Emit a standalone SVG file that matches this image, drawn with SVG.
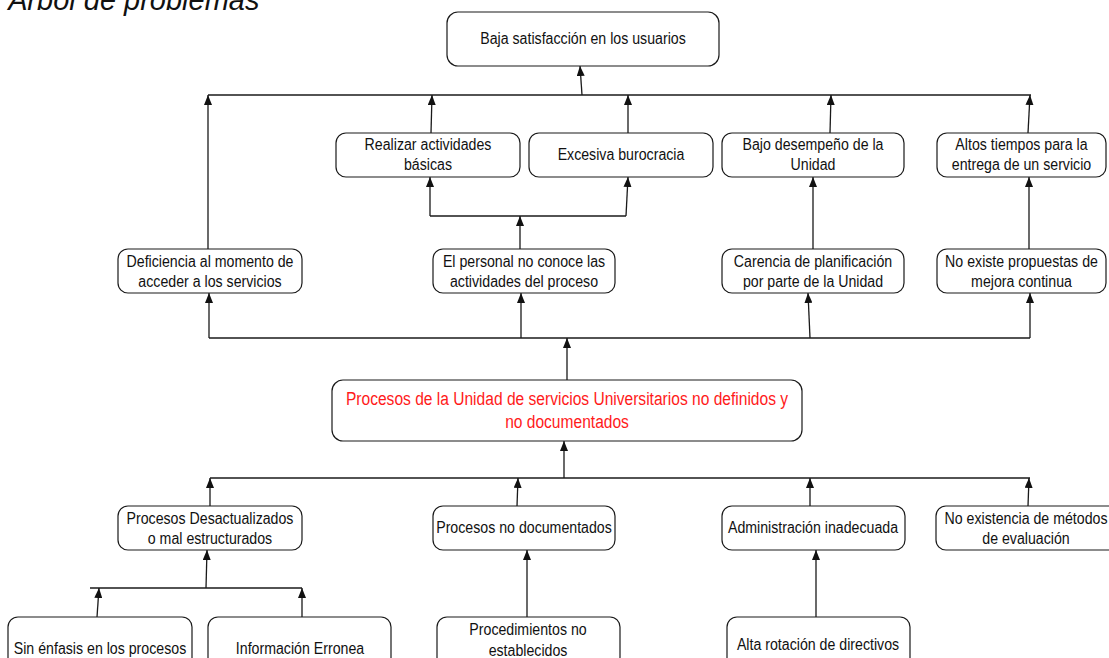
<svg xmlns="http://www.w3.org/2000/svg" width="1109" height="658" viewBox="0 0 1109 658">
  <style>
    .box { fill: #ffffff; stroke: #1a1a1a; stroke-width: 1.2; }
    .lbl { font-family: "Liberation Sans", Arial, sans-serif; font-size: 17.3px; fill: #111111; text-anchor: middle; }
    .core { font-size: 19px; fill: #ff1a1a; }
    .title { font-family: "Liberation Sans", Arial, sans-serif; font-style: italic; font-size: 29px; fill: #111111; }
    .wire { fill: none; stroke: #1a1a1a; stroke-width: 1.3; }
    .arr { fill: none; stroke: #1a1a1a; stroke-width: 1.3; marker-end: url(#tip); }
  </style>
  <defs>
    <marker id="tip" markerUnits="userSpaceOnUse" markerWidth="11" markerHeight="8" refX="10" refY="4" orient="auto">
      <path d="M0,0 L10,4 L0,8 z" fill="#111111"/>
    </marker>
  </defs>

  <rect width="1109" height="658" fill="#ffffff"/>

  <text class="title" x="8" y="10">Árbol de problemas</text>

  <!-- connectors -->
  <g id="connectors">
    <!-- effects bus -->
    <line class="wire" x1="208" y1="95" x2="1031" y2="95"/>
    <line class="arr" x1="582" y1="95" x2="580" y2="66"/>
    <line class="arr" x1="208" y1="249" x2="208" y2="95"/>
    <line class="arr" x1="431" y1="133" x2="432" y2="95"/>
    <line class="arr" x1="628" y1="133" x2="628" y2="95"/>
    <line class="arr" x1="830" y1="133" x2="831" y2="95"/>
    <line class="arr" x1="1028" y1="133" x2="1030" y2="95"/>

    <!-- El personal -> Realizar / Excesiva -->
    <line class="wire" x1="430" y1="216" x2="626" y2="216"/>
    <line class="arr" x1="430" y1="216" x2="430" y2="177"/>
    <line class="arr" x1="626" y1="216" x2="628" y2="177"/>
    <line class="arr" x1="520" y1="249" x2="520" y2="216"/>

    <line class="arr" x1="813" y1="249" x2="813" y2="177"/>
    <line class="arr" x1="1029" y1="249" x2="1029" y2="177"/>

    <!-- core problem -> direct effects -->
    <line class="wire" x1="209" y1="338" x2="1030" y2="338"/>
    <line class="arr" x1="567" y1="380" x2="567" y2="338"/>
    <line class="arr" x1="209" y1="338" x2="209" y2="293"/>
    <line class="arr" x1="521" y1="338" x2="521" y2="293"/>
    <line class="arr" x1="810" y1="338" x2="808" y2="293"/>
    <line class="arr" x1="1030" y1="338" x2="1030" y2="293"/>

    <!-- causes -> core problem -->
    <line class="wire" x1="210" y1="478" x2="1030" y2="478"/>
    <line class="arr" x1="564" y1="478" x2="564" y2="441"/>
    <line class="arr" x1="210" y1="506" x2="210" y2="478"/>
    <line class="arr" x1="517" y1="506" x2="518" y2="478"/>
    <line class="arr" x1="810" y1="506" x2="810" y2="478"/>
    <line class="arr" x1="1028" y1="506" x2="1029" y2="478"/>

    <!-- root causes -->
    <line class="wire" x1="90" y1="588" x2="302" y2="588"/>
    <line class="arr" x1="206" y1="588" x2="207" y2="550"/>
    <line class="arr" x1="97" y1="617" x2="99" y2="588"/>
    <line class="arr" x1="302" y1="617" x2="302" y2="588"/>
    <line class="arr" x1="527" y1="617" x2="527" y2="550"/>
    <line class="arr" x1="816" y1="617" x2="816" y2="550"/>
  </g>

  <!-- labels use a condensed face: each label group is centred on its box and squeezed horizontally -->

  <!-- top effect -->
  <g id="baja-satisfaccion">
    <rect class="box" x="447" y="12" width="272" height="54" rx="11"/>
    <g transform="translate(583 0) scale(0.82 1)">
      <text class="lbl" x="0" y="44">Baja satisfacción en los usuarios</text>
    </g>
  </g>

  <!-- effects, second level -->
  <g id="realizar-actividades">
    <rect class="box" x="336" y="133" width="184" height="44" rx="10"/>
    <g transform="translate(428 0) scale(0.82 1)">
      <text class="lbl" x="0" y="150">Realizar actividades</text>
      <text class="lbl" x="0" y="170">básicas</text>
    </g>
  </g>
  <g id="excesiva-burocracia">
    <rect class="box" x="529" y="133" width="184" height="44" rx="10"/>
    <g transform="translate(621 0) scale(0.82 1)">
      <text class="lbl" x="0" y="160">Excesiva burocracia</text>
    </g>
  </g>
  <g id="bajo-desempeno">
    <rect class="box" x="722" y="133" width="182" height="44" rx="10"/>
    <g transform="translate(813 0) scale(0.82 1)">
      <text class="lbl" x="0" y="150">Bajo desempeño de la</text>
      <text class="lbl" x="0" y="170">Unidad</text>
    </g>
  </g>
  <g id="altos-tiempos">
    <rect class="box" x="937" y="133" width="169" height="44" rx="10"/>
    <g transform="translate(1021.5 0) scale(0.82 1)">
      <text class="lbl" x="0" y="150">Altos tiempos para la</text>
      <text class="lbl" x="0" y="170">entrega de un servicio</text>
    </g>
  </g>

  <!-- direct effects -->
  <g id="deficiencia">
    <rect class="box" x="118" y="249" width="184" height="44" rx="10"/>
    <g transform="translate(210 0) scale(0.82 1)">
      <text class="lbl" x="0" y="267">Deficiencia al momento de</text>
      <text class="lbl" x="0" y="287">acceder a los servicios</text>
    </g>
  </g>
  <g id="personal-no-conoce">
    <rect class="box" x="433" y="249" width="182" height="44" rx="10"/>
    <g transform="translate(524 0) scale(0.82 1)">
      <text class="lbl" x="0" y="267">El personal no conoce las</text>
      <text class="lbl" x="0" y="287">actividades del proceso</text>
    </g>
  </g>
  <g id="carencia-planificacion">
    <rect class="box" x="722" y="249" width="182" height="44" rx="10"/>
    <g transform="translate(813 0) scale(0.82 1)">
      <text class="lbl" x="0" y="267">Carencia de planificación</text>
      <text class="lbl" x="0" y="287">por parte de la Unidad</text>
    </g>
  </g>
  <g id="no-existe-propuestas">
    <rect class="box" x="937" y="249" width="169" height="44" rx="10"/>
    <g transform="translate(1021.5 0) scale(0.82 1)">
      <text class="lbl" x="0" y="267">No existe propuestas de</text>
      <text class="lbl" x="0" y="287">mejora continua</text>
    </g>
  </g>

  <!-- core problem -->
  <g id="problema-central">
    <rect class="box" x="332" y="380" width="470" height="61" rx="11"/>
    <g transform="translate(567 0) scale(0.82 1)">
      <text class="lbl core" x="0" y="405">Procesos de la Unidad de servicios Universitarios no definidos y</text>
      <text class="lbl core" x="0" y="428">no documentados</text>
    </g>
  </g>

  <!-- causes -->
  <g id="procesos-desactualizados">
    <rect class="box" x="118" y="506" width="184" height="44" rx="10"/>
    <g transform="translate(210 0) scale(0.82 1)">
      <text class="lbl" x="0" y="524">Procesos Desactualizados</text>
      <text class="lbl" x="0" y="544">o mal estructurados</text>
    </g>
  </g>
  <g id="procesos-no-documentados">
    <rect class="box" x="433" y="506" width="182" height="44" rx="10"/>
    <g transform="translate(524 0) scale(0.82 1)">
      <text class="lbl" x="0" y="533">Procesos no documentados</text>
    </g>
  </g>
  <g id="administracion-inadecuada">
    <rect class="box" x="722" y="506" width="183" height="44" rx="10"/>
    <g transform="translate(813 0) scale(0.82 1)">
      <text class="lbl" x="0" y="533">Administración inadecuada</text>
    </g>
  </g>
  <g id="no-existencia-metodos">
    <rect class="box" x="936" y="506" width="184" height="44" rx="10"/>
    <g transform="translate(1026 0) scale(0.82 1)">
      <text class="lbl" x="0" y="524">No existencia de métodos</text>
      <text class="lbl" x="0" y="544">de evaluación</text>
    </g>
  </g>

  <!-- root causes -->
  <g id="sin-enfasis">
    <rect class="box" x="8" y="617" width="184" height="62" rx="10"/>
    <g transform="translate(100 0) scale(0.82 1)">
      <text class="lbl" x="0" y="654">Sin énfasis en los procesos</text>
    </g>
  </g>
  <g id="informacion-erronea">
    <rect class="box" x="208" y="617" width="183" height="62" rx="10"/>
    <g transform="translate(300 0) scale(0.82 1)">
      <text class="lbl" x="0" y="654">Información Erronea</text>
    </g>
  </g>
  <g id="procedimientos-no-establecidos">
    <rect class="box" x="437" y="617" width="183" height="50" rx="10"/>
    <g transform="translate(528 0) scale(0.82 1)">
      <text class="lbl" x="0" y="635">Procedimientos no</text>
      <text class="lbl" x="0" y="656">establecidos</text>
    </g>
  </g>
  <g id="alta-rotacion">
    <rect class="box" x="727" y="617" width="183" height="56" rx="10"/>
    <g transform="translate(818 0) scale(0.82 1)">
      <text class="lbl" x="0" y="650">Alta rotación de directivos</text>
    </g>
  </g>
</svg>
